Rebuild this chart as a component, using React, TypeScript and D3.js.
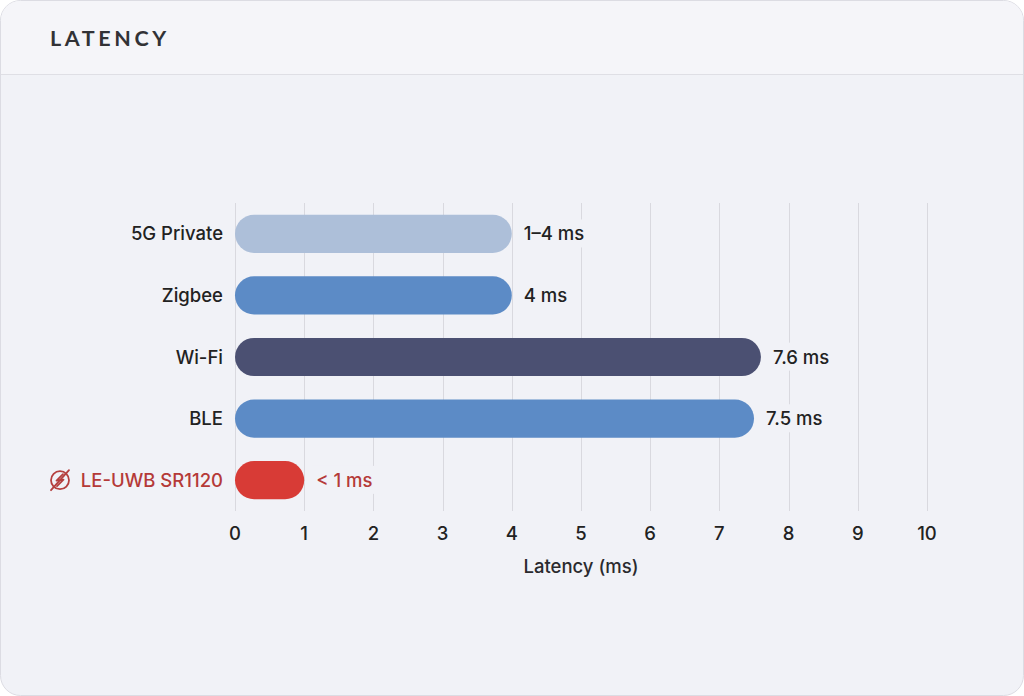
import { useEffect, useRef } from 'react'
import * as d3 from 'd3'

const CATEGORIES = ['5G Private', 'Zigbee', 'Wi-Fi', 'BLE', 'LE-UWB SR1120']
const VALUES = [4, 4, 7.6, 7.5, 1]
const VALUE_LABELS = ['1–4 ms', '4 ms', '7.6 ms', '7.5 ms', '< 1 ms']
const BAR_COLORS = ['#adbfd9', '#5c8bc6', '#4b5072', '#5c8bc6', '#d83b36']
const TICKS = [0, 1, 2, 3, 4, 5, 6, 7, 8, 9, 10]

const W = 1024
const H = 696
const BG = '#f1f2f7'
const HIGHLIGHT = 'LE-UWB SR1120'
const FONT = 'Inter, "Noto Sans", sans-serif'
const FS = 18.5

export default function App() {
  const svgRef = useRef<SVGSVGElement>(null)

  useEffect(() => {
    document.body.style.margin = '0'
    const svgEl = svgRef.current
    if (!svgEl) return
    const svg = d3.select(svgEl)
    svg.selectAll('*').remove()

    // card
    svg.append('rect')
      .attr('x', 0.5).attr('y', 0.5)
      .attr('width', W - 1).attr('height', H - 1)
      .attr('rx', 20)
      .attr('fill', BG)
      .attr('stroke', '#dcdce3')

    // header
    const clip = svg.append('clipPath').attr('id', 'card-clip')
    clip.append('rect').attr('x', 1).attr('y', 1).attr('width', W - 2).attr('height', H - 2).attr('rx', 19)
    svg.append('rect')
      .attr('clip-path', 'url(#card-clip)')
      .attr('x', 0).attr('y', 0).attr('width', W).attr('height', 74)
      .attr('fill', '#f5f5f9')
    svg.append('line')
      .attr('x1', 1).attr('x2', W - 1)
      .attr('y1', 74.5).attr('y2', 74.5)
      .attr('stroke', '#dfdfe5')
    svg.append('text')
      .attr('x', 50).attr('y', 46)
      .attr('font-family', 'Lato, sans-serif')
      .attr('font-weight', 700)
      .attr('font-size', 21.5)
      .attr('letter-spacing', 3.6)
      .attr('fill', '#323236')
      .text('LATENCY')

    const x = d3.scaleLinear().domain([0, 10]).range([235, 927])
    const y = d3.scaleBand().domain(CATEGORIES).range([203, 511]).paddingInner(0.38).paddingOuter(0.19)

    const g = svg.append('g')

    // grid
    g.selectAll('.grid')
      .data(TICKS)
      .enter()
      .append('line')
      .attr('x1', d => Math.round(x(d)) + 0.5).attr('x2', d => Math.round(x(d)) + 0.5)
      .attr('y1', 203).attr('y2', 511)
      .attr('stroke', '#d9d9df')
      .attr('stroke-width', 1)

    // tick labels
    g.selectAll('.tick-label')
      .data(TICKS)
      .enter()
      .append('text')
      .attr('x', d => x(d))
      .attr('y', 540)
      .attr('text-anchor', 'middle')
      .attr('font-family', FONT)
      .attr('font-size', FS)
      .attr('font-weight', 500)
      .attr('fill', '#222')
      .text(d => d)

    g.append('text')
      .attr('x', x(5)).attr('y', 573)
      .attr('text-anchor', 'middle')
      .attr('font-family', FONT)
      .attr('font-size', FS)
      .attr('font-weight', 500)
      .attr('fill', '#2a2a2e')
      .text('Latency (ms)')

    const bh = y.bandwidth()

    // bars
    g.selectAll('.bar')
      .data(CATEGORIES)
      .enter()
      .append('rect')
      .attr('x', x(0))
      .attr('y', d => y(d)!)
      .attr('width', (_, i) => x(VALUES[i]) - x(0))
      .attr('height', bh)
      .attr('rx', bh / 2)
      .attr('fill', (_, i) => BAR_COLORS[i])

    // value labels with background masks
    const vl = g.selectAll('.vlabel')
      .data(CATEGORIES)
      .enter()
      .append('g')
    vl.append('text')
      .attr('x', (_, i) => x(VALUES[i]) + 12)
      .attr('y', d => y(d)! + bh / 2)
      .attr('dy', '0.36em')
      .attr('font-family', FONT)
      .attr('font-size', FS)
      .attr('font-weight', 500)
      .attr('fill', d => (d === HIGHLIGHT ? '#b53a38' : '#222'))
      .text((_, i) => VALUE_LABELS[i])
      .each(function () {
        const bb = (this as SVGTextElement).getBBox()
        d3.select((this as SVGTextElement).parentNode as SVGGElement)
          .insert('rect', 'text')
          .attr('x', bb.x - 4).attr('y', bb.y - 3)
          .attr('width', bb.width + 8).attr('height', bb.height + 6)
          .attr('fill', BG)
      })

    // category labels
    g.selectAll('.clabel')
      .data(CATEGORIES)
      .enter()
      .append('text')
      .attr('x', 223)
      .attr('y', d => y(d)! + bh / 2)
      .attr('dy', '0.36em')
      .attr('text-anchor', 'end')
      .attr('font-family', FONT)
      .attr('font-size', FS)
      .attr('font-weight', 500)
      .attr('fill', d => (d === HIGHLIGHT ? '#b53a38' : '#222'))
      .text(d => d)

    // icon before highlighted label
    const cy = y(HIGHLIGHT)! + bh / 2
    const icon = g.append('g').attr('transform', `translate(60,${cy})`)
      .attr('fill', 'none').attr('stroke', '#b5403f').attr('stroke-width', 1.8)
      .attr('stroke-linecap', 'round').attr('stroke-linejoin', 'round')
    icon.append('circle').attr('r', 9)
    icon.append('path').attr('d', 'M3,-6 L-3.5,0.5 L3.5,-0.5 L-3,6')
    icon.append('line').attr('x1', -9).attr('y1', 10).attr('x2', 9).attr('y2', -10)
  }, [])

  return (
    <svg
      ref={svgRef}
      width={W}
      height={H}
      style={{ position: 'fixed', left: 0, top: 0, background: '#fff' }}
    />
  )
}
